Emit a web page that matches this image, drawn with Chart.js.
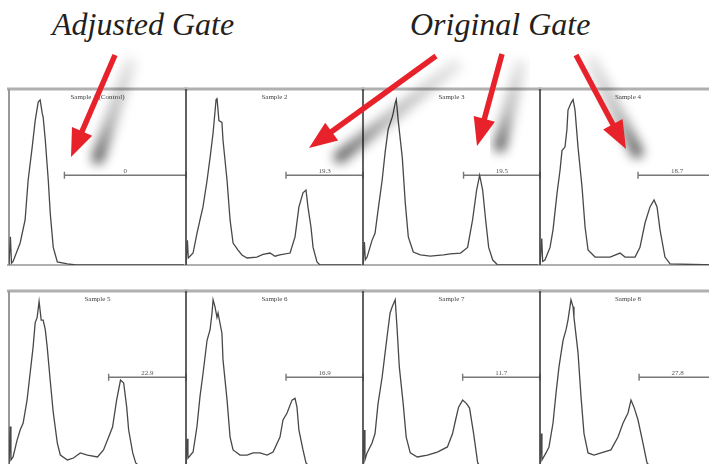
<!DOCTYPE html>
<html>
<head>
<meta charset="utf-8">
<script src="https://cdn.jsdelivr.net/npm/chart.js@4.4.1/dist/chart.umd.min.js"></script>
<style>
html, body { margin: 0; padding: 0; background: #fff; }
#page { position: relative; width: 709px; height: 464px; overflow: hidden; background: #fff; }
.panel { position: absolute; }
.head { position: absolute; font-family: "Liberation Serif", serif; font-style: italic; font-size: 32px; color: #231f20; white-space: nowrap; }
#arrows { position: absolute; left: 0; top: 0; }
</style>
</head>
<body>
<div id="page">
  <div class="head" style="left:52px;top:6px">Adjusted Gate</div>
  <div class="head" style="left:410px;top:6px">Original Gate</div>
  <svg id="arrows" width="709" height="464"></svg>
</div>
<script>
// histogram traces: [channel, count], channel 0-100, count 0-100
const sample1 = [[0,0],[0.8,16],[1.4,1],[2.3,2],[6.3,12.5],[9.1,25.6],[10.8,48],[13.1,67],[14.8,82],[16.5,92.6],[17.6,93.8],[18.8,86],[19.3,84],[20.5,71],[22.2,48],[23.3,29.5],[25,10],[27.3,1.7],[33,0.6],[38,0],[100,0]];
const sample2 = [[0,0],[0.8,14],[1.3,4],[4,6.8],[6.2,18],[7.9,25.6],[9.6,33],[11.9,48],[13.6,61],[15.3,75],[17,94],[17.5,95],[18.6,82],[20.3,81],[20.9,71],[23.2,48],[24.9,25.6],[26.6,12.5],[29.4,8.5],[31.6,5.7],[34.5,4],[40,4.5],[43.5,6],[47.5,6.8],[50.3,5],[53,5.7],[58.8,6.8],[61.6,16],[63.8,33],[66.1,41],[67.8,42.6],[68.9,33],[70.6,21.6],[71.8,10],[74,1.7],[75.7,0],[100,0]];
const sample3 = [[0,0],[0.8,13],[1.3,3],[2.3,4.5],[5.1,14],[6.8,18],[8.5,31],[10.8,48],[12.5,64],[14.2,77],[16.5,84],[17,86],[18.2,92],[18.8,94],[19.9,82],[22.2,61],[23.9,35],[25.6,16],[28.4,7.4],[32.4,5.7],[38,5],[45.5,5.7],[49.4,6.3],[55.1,6.8],[59.1,10],[61.9,25.6],[64.2,42.6],[65.9,51],[67.6,42.6],[69.3,25.6],[71,10],[73.3,2.8],[76.1,0],[100,0]];
const sample4 = [[0,0],[1,15],[1.5,2],[2.8,2.8],[5.7,10],[7.4,20],[9.7,41],[11.4,54],[12.5,65],[14.2,67],[15.3,77],[15.9,88],[17.6,92],[18.8,94],[19.9,88],[21.6,67],[23.9,44],[25.6,21.6],[27.3,8.5],[31.3,4.5],[39.8,4.5],[45.5,6.8],[48.3,4.5],[54,4.5],[56.8,10],[59.7,24],[62.5,33],[64.8,37],[66.5,33],[68.2,20],[71,4.5],[73.9,0.6],[100,0]];
const sample5 = [[0,0],[0.6,23],[1.1,4],[2.3,5.7],[4.5,15],[6.3,21],[8,25],[10.2,38],[11.9,53],[13.6,68],[14.8,82],[15.9,85],[17,94],[18.2,83.5],[19.3,83.5],[20.5,78],[21.6,68],[23.3,49],[25,31],[27.3,13.6],[29,6.8],[33,4],[36.4,5.1],[40.3,8],[44.3,6.8],[50,5.7],[53.4,9.7],[56.3,17],[58.5,22.7],[60.8,38],[63,49.4],[64.8,47.7],[66.5,34],[67.6,21],[69.9,8],[71.6,2.3],[74.4,0],[100,0]];
const sample6 = [[0,0],[0.6,16],[1.1,5],[4,8.5],[6.2,23],[7.9,40],[9.6,53],[11.9,72],[13.6,78],[14.7,87.5],[15.3,95],[16.4,91],[17.5,85],[18.1,87.5],[20.3,76],[20.9,61],[23.2,38],[24.9,17],[26.6,9.7],[30.5,6.8],[34.5,6.8],[37.9,8],[41.8,8],[45.8,6.8],[49.2,8.5],[53.1,17],[54.8,26.7],[57.1,30.7],[59.9,38],[61.6,39],[62.7,34],[63.8,21],[66.1,9.7],[67.8,2.3],[70,0],[100,0]];
const sample7 = [[0,0],[0.6,21],[1.1,4],[2.3,8],[5.1,13.6],[6.8,19],[8.5,36],[10.8,51],[12.5,65],[13.6,74],[15.3,87.5],[16.5,91],[18.2,95],[19.3,78],[20.5,57],[22.7,36],[24.4,17],[26.7,8],[30.7,5.7],[36.4,6.8],[42,8.5],[47.7,11.4],[50.6,19],[52.3,26.7],[54,34],[56.3,38],[58.5,36],[60.2,33.5],[62.5,19],[64.8,2.3],[66.5,0],[100,0]];
const sample8 = [[0,0],[0.6,19],[1.1,4],[3.4,8],[5.1,11.4],[7.4,25],[9.1,42],[10.8,57],[13.1,72],[14.8,78],[15.9,83.5],[17.6,95],[18.8,91],[19.3,85],[21.6,65],[23.3,40],[25,19],[27.3,8],[30.7,6.8],[34.7,8],[40.3,9.7],[44.3,17],[47.2,25],[50,30.7],[51.7,38],[53.4,34],[55.7,26.7],[58.5,13.6],[60.8,2.3],[63,0],[100,0]];

const samples = [sample1, sample2, sample3, sample4, sample5, sample6, sample7, sample8];
const sampleNames = ['Sample 1 (Control)', 'Sample 2', 'Sample 3', 'Sample 4', 'Sample 5', 'Sample 6', 'Sample 7', 'Sample 8'];
const gateStart = [31.3, 56.5, 56.8, 55.7, 56.3, 56.5, 56.3, 56.3];
const gateLevel = [51, 51, 51, 51, 51, 51, 51, 51];
const gateValue = ['0', '19.3', '19.5', '18.7', '22.9', '16.9', '11.7', '27.8'];

// layout
const colLeft = [9, 186, 363, 540];
const colWidth = [177, 177, 177, 176];
const rowTop = [89, 291];
const panelHeight = 176;
const M = 6;

const framePlugin = {
  id: 'frame',
  beforeDatasetsDraw(chart, args, opts) {
    const { ctx, chartArea: a } = chart;
    ctx.save();
    ctx.strokeStyle = '#b0b0b0';
    ctx.lineWidth = 3;
    ctx.beginPath(); ctx.moveTo(a.left - 2, a.top); ctx.lineTo(a.right + 2, a.top); ctx.stroke();
    ctx.lineWidth = 2;
    ctx.beginPath(); ctx.moveTo(a.left - 2, a.bottom); ctx.lineTo(a.right + 2, a.bottom); ctx.stroke();
    ctx.strokeStyle = opts.first ? '#999999' : '#3a3a3a';
    ctx.lineWidth = opts.first ? 2 : 1.6;
    ctx.beginPath(); ctx.moveTo(a.left, a.top); ctx.lineTo(a.left, a.bottom); ctx.stroke();
    ctx.restore();
  },
  afterDraw(chart, args, opts) {
    const { ctx, chartArea: a, scales } = chart;
    ctx.save();
    ctx.font = '7px "Liberation Serif"';
    ctx.fillStyle = '#444';
    ctx.textAlign = 'center';
    ctx.textBaseline = 'top';
    ctx.fillText(opts.title, (a.left + a.right) / 2, a.top + 5);
    ctx.fillStyle = '#555';
    ctx.textBaseline = 'bottom';
    const gx = scales.x.getPixelForValue((opts.gateFrom + 100) / 2);
    ctx.fillText(opts.gateText, gx, scales.y.getPixelForValue(opts.gateAt) - 0.5);
    ctx.restore();
  }
};

const page = document.getElementById('page');
samples.forEach((s, i) => {
  const col = i % 4, row = Math.floor(i / 4);
  const w = colWidth[col], h = panelHeight;
  const cv = document.createElement('canvas');
  cv.className = 'panel';
  cv.width = w + 2 * M;
  cv.height = h + 2 * M;
  cv.style.left = (colLeft[col] - M) + 'px';
  cv.style.top = (rowTop[row] - M) + 'px';
  page.insertBefore(cv, document.getElementById('arrows'));

  new Chart(cv, {
    type: 'line',
    data: {
      datasets: [
        {
          data: s.map(p => ({ x: p[0], y: p[1] })),
          borderColor: '#484848',
          borderWidth: 1.3,
          pointRadius: 0,
          tension: 0
        },
        {
          data: [{ x: gateStart[i], y: gateLevel[i] }, { x: 100, y: gateLevel[i] }],
          borderColor: '#777777',
          borderWidth: 1.4,
          pointStyle: 'line',
          rotation: 90,
          pointRadius: 3.5,
          pointBorderWidth: 1.4,
          pointBorderColor: '#777777',
          clip: false
        }
      ]
    },
    options: {
      responsive: false,
      animation: false,
      events: [],
      layout: { padding: M },
      scales: {
        x: { type: 'linear', min: 0, max: 100, display: false },
        y: { min: 0, max: 100, display: false }
      },
      plugins: {
        legend: { display: false },
        tooltip: { enabled: false },
        frame: { first: col === 0, title: sampleNames[i], gateFrom: gateStart[i], gateAt: gateLevel[i], gateText: gateValue[i] }
      }
    },
    plugins: [framePlugin]
  });
});

// annotation arrows
const arrowTails = [[115, 55], [436, 56], [502, 54], [576, 55]];
const arrowTips = [[71, 157], [309, 148], [477, 146], [626, 149]];
const shadowFrom = [[130, 64], [455, 66], [520, 66], [592, 62]];
const shadowTo = [[98, 158], [340, 157], [500, 146], [637, 152]];

const svg = document.getElementById('arrows');
let defs = '<defs><filter id="blur" x="-50%" y="-50%" width="200%" height="200%"><feGaussianBlur stdDeviation="5.5"/></filter>';
shadowFrom.forEach((f, i) => {
  const t = shadowTo[i];
  defs += `<linearGradient id="sg${i}" gradientUnits="userSpaceOnUse" x1="${f[0]}" y1="${f[1]}" x2="${t[0]}" y2="${t[1]}">` +
    '<stop offset="0" stop-color="#000" stop-opacity="0.1"/><stop offset="0.6" stop-color="#000" stop-opacity="0.28"/><stop offset="1" stop-color="#000" stop-opacity="0.6"/></linearGradient>';
});
defs += '</defs>';
let body = '';
shadowFrom.forEach((f, i) => {
  const t = shadowTo[i];
  body += `<line x1="${f[0]}" y1="${f[1]}" x2="${t[0]}" y2="${t[1]}" stroke="url(#sg${i})" stroke-width="13" stroke-linecap="round" filter="url(#blur)"/>`;
});
arrowTails.forEach((a, i) => {
  const t = arrowTips[i];
  const dx = t[0] - a[0], dy = t[1] - a[1];
  const len = Math.hypot(dx, dy);
  const ux = dx / len, uy = dy / len;
  const hl = 28, hw = 11;
  const bx = t[0] - ux * hl, by = t[1] - uy * hl;
  body += `<line x1="${a[0]}" y1="${a[1]}" x2="${bx + ux * 2}" y2="${by + uy * 2}" stroke="#e8222a" stroke-width="5.5"/>`;
  body += `<polygon points="${t[0]},${t[1]} ${bx - uy * hw},${by + ux * hw} ${bx + uy * hw},${by - ux * hw}" fill="#e8222a"/>`;
});
svg.innerHTML = defs + body;
</script>
</body>
</html>
